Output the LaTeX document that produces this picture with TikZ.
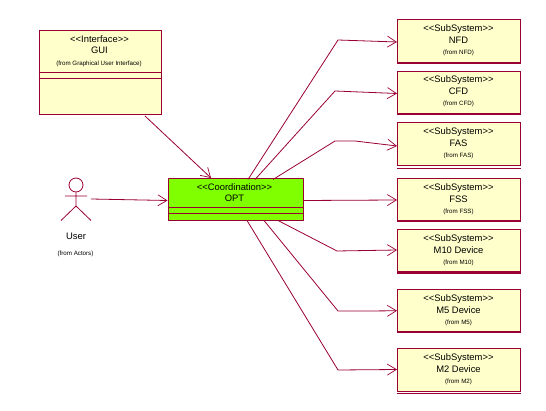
\documentclass[tikz,border=0pt]{standalone}
\usepackage{fontspec}
\setmainfont{Liberation Sans}
\usetikzlibrary{arrows.meta}
\definecolor{umlline}{HTML}{990033}
\definecolor{umlfill}{HTML}{FFFFCC}
\definecolor{umlgreen}{HTML}{80FF00}
\tikzset{
  x=1pt,y=-1pt,
  box/.style={draw=umlline,fill=umlfill,line width=1pt,rectangle,inner sep=0pt,anchor=north west,minimum width=#1},
  sep/.style={draw=umlline,line width=0.9pt},
  big/.style={font=\fontsize{9.4}{10}\selectfont,text=black,inner sep=0pt},
  small/.style={font=\fontsize{6.2}{7}\selectfont,text=black,inner sep=0pt},
  conn/.style={draw=umlline,line width=0.8pt},
  arr/.style={conn,-{Straight Barb[length=9pt,width=11pt,line width=0.7pt]}},
}
\newcommand{\subsys}[7]{% name, top, height, title, from, sep offset, sep width
  \node[box=123pt,minimum height=#3pt] (#1) at (397,#2) {};
  \node[big] (#1s) at (458.5,#2+9.5) {<{}<SubSystem>{}>};
  \node[big] (#1t) at (458.5,#2+20.5) {#4};
  \node[small] (#1f) at (458.5,#2+33) {(from #5)};
  \draw[sep,line width=#7pt] ([yshift=#6pt]#1.south west) -- ([yshift=#6pt]#1.south east);
}
\begin{document}
\begin{tikzpicture}
\useasboundingbox[fill=white] (0,0) rectangle (546,411);
% GUI
\node[box=122pt,minimum height=84pt] (gui) at (38.5,30) {};
\draw[sep] (gui.west |- 0,72) coordinate (g1) -- (gui.east |- 0,72);
\draw[sep] (gui.west |- 0,78) coordinate (g2) -- (gui.east |- 0,78);
\node[big] (guis) at (99.5,39.5) {<{}<Interface>{}>};
\node[big] (guit) at (99.5,50.5) {GUI};
\node[small] (guif) at (99,63.5) {(from Graphical User Interface)};
% OPT
\node[box=135pt,minimum height=42pt,fill=umlgreen] (opt) at (167.5,178.5) {};
\draw[sep] (opt.west |- 0,207) -- (opt.east |- 0,207);
\draw[sep] (opt.west |- 0,213) -- (opt.east |- 0,213);
\node[big] (opts) at (234.5,187) {<{}<Coordination>{}>};
\node[big] (optt) at (234.5,198.5) {OPT};
% Actor
\node[draw=umlline,line width=0.8pt,circle,minimum size=14pt,inner sep=0pt] (head) at (76,185) {};
\coordinate (hip) at (76,206);
\coordinate (armL) at (65,196);
\coordinate (armR) at (87,196);
\coordinate (legL) at (61,220.5);
\coordinate (legR) at (91,220.5);
\draw[conn] (head.south) -- (hip) (armL) -- (armR) (legL) -- (hip) -- (legR);
\node[big] (usert) at (76,236) {User};
\node[small] (userf) at (75.5,253.5) {(from Actors)};
\coordinate (userout) at (91,199);
% Subsystems
\subsys{nfd}{19.5}{42.5}{NFD}{NFD}{-0.3}{2}
\subsys{cfd}{71}{42}{CFD}{CFD}{-0.3}{2}
\subsys{fas}{122.5}{42.5}{FAS}{FAS}{-2}{0.9}
\subsys{fss}{178.5}{41.5}{FSS}{FSS}{-0.3}{2}
\subsys{mten}{229.5}{42}{M10 Device}{M10}{-0.3}{2}
\subsys{mfive}{289.5}{41.5}{M5 Device}{M5}{-0.3}{2}
\subsys{mtwo}{348.5}{42}{M2 Device}{M2}{-2}{0.9}
% Connectors
\draw[arr] (gui.south west) ++(106.5,1) coordinate (guiout) (guiout) -- ([xshift=43.5pt,yshift=0.5pt]opt.north west);
\draw[arr] (userout) -- ([yshift=-0.5pt]opt.west);
\draw[arr] ([xshift=80.5pt,yshift=-1pt]opt.north west) -- (338,40) -- ([yshift=-0.75pt]nfd.west);
\draw[arr] ([xshift=87.5pt,yshift=-1pt]opt.north west) -- (335,91) -- ([yshift=-1pt]cfd.west);
\draw[arr] ([xshift=105.5pt,yshift=-1pt]opt.north west) -- (335,141) -- (355,141) -- ([yshift=-1.75pt]fas.west);
\draw[arr] ([yshift=-0.5pt]opt.east) -- ([yshift=-0.25pt]fss.west);
\draw[arr] ([xshift=110.5pt,yshift=1pt]opt.south west) -- (337,251) -- ([yshift=1pt]mten.west);
\draw[arr] ([xshift=96.5pt,yshift=1pt]opt.south west) -- (338,311) -- (368,311) -- (mfive.west);
\draw[arr] ([xshift=79.5pt,yshift=1pt]opt.south west) -- (338,370) -- ([yshift=0.5pt]mtwo.west);
\end{tikzpicture}
\end{document}
